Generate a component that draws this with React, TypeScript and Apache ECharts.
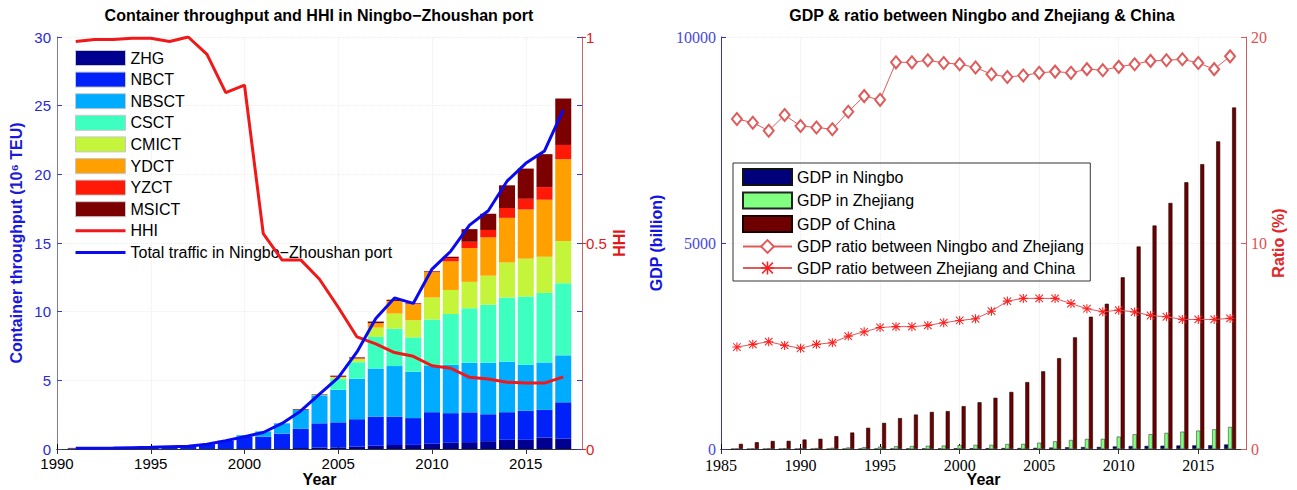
import React, { useEffect, useRef } from "react";
import * as echarts from "echarts";

// ---------- Left chart data (1991-2017) ----------
const portYears = [1991, 1992, 1993, 1994, 1995, 1996, 1997, 1998, 1999, 2000, 2001, 2002, 2003, 2004, 2005, 2006, 2007, 2008, 2009, 2010, 2011, 2012, 2013, 2014, 2015, 2016, 2017];
const zhg = [0, 0, 0, 0, 0, 0, 0, 0, 0, 0, 0, 0, 0.07, 0.1, 0.12, 0.17, 0.24, 0.29, 0.3, 0.38, 0.45, 0.5, 0.57, 0.67, 0.67, 0.84, 0.75];
const nbct = [0.05, 0.06, 0.08, 0.1, 0.12, 0.15, 0.2, 0.35, 0.6, 0.9, 0.9, 1.12, 1.4, 1.77, 1.82, 2.0, 2.12, 2.07, 1.95, 2.3, 2.16, 2.17, 1.96, 2.01, 2.11, 2.01, 2.65];
const nbsct = [0, 0, 0, 0, 0, 0, 0, 0, 0, 0.1, 0.38, 0.75, 1.37, 2.0, 2.38, 2.95, 3.5, 3.68, 3.38, 3.4, 3.52, 3.61, 3.75, 3.68, 3.36, 3.45, 3.42];
const csct = [0, 0, 0, 0, 0, 0, 0, 0, 0, 0, 0, 0, 0, 0.05, 0.77, 1.2, 2.3, 2.72, 2.5, 3.35, 3.7, 3.97, 4.23, 4.67, 4.96, 5.07, 5.25];
const cmict = [0, 0, 0, 0, 0, 0, 0, 0, 0, 0, 0, 0, 0, 0, 0.12, 0.2, 0.68, 1.1, 1.25, 1.6, 1.75, 1.92, 2.11, 2.55, 2.76, 2.63, 3.07];
const ydct = [0, 0, 0, 0, 0, 0, 0, 0, 0, 0, 0, 0, 0, 0, 0.05, 0.08, 0.32, 0.92, 1.16, 1.84, 2.08, 2.46, 2.79, 3.25, 3.58, 4.15, 5.96];
const yzct = [0, 0, 0, 0, 0, 0, 0, 0, 0, 0, 0, 0, 0, 0, 0, 0, 0, 0, 0.04, 0.06, 0.24, 0.46, 0.54, 0.72, 0.78, 0.92, 1.04];
const msict = [0.03, 0, 0, 0, 0, 0, 0, 0, 0, 0, 0, 0, 0.05, 0.05, 0.08, 0.07, 0.12, 0.09, 0.04, 0.03, 0.1, 0.92, 1.18, 1.65, 2.2, 2.4, 3.38];
const hhi = [0.989, 0.994, 0.994, 0.997, 0.997, 0.989, 1.0, 0.958, 0.865, 0.883, 0.523, 0.459, 0.459, 0.412, 0.344, 0.272, 0.255, 0.234, 0.225, 0.202, 0.196, 0.174, 0.17, 0.162, 0.16, 0.16, 0.175];
const totalTraffic = [0.05, 0.05, 0.07, 0.1, 0.12, 0.17, 0.2, 0.35, 0.6, 0.9, 1.2, 1.86, 2.77, 4.0, 5.2, 7.07, 9.5, 11.0, 10.6, 13.1, 14.4, 16.3, 17.35, 19.5, 20.8, 21.7, 24.7];
// x axis of the left chart: 1990 ... 2018
const portAxisYears = [1990, 1991, 1992, 1993, 1994, 1995, 1996, 1997, 1998, 1999, 2000, 2001, 2002, 2003, 2004, 2005, 2006, 2007, 2008, 2009, 2010, 2011, 2012, 2013, 2014, 2015, 2016, 2017, 2018];

// ---------- Right chart data (1986-2017) ----------
const gdpYears = [1986, 1987, 1988, 1989, 1990, 1991, 1992, 1993, 1994, 1995, 1996, 1997, 1998, 1999, 2000, 2001, 2002, 2003, 2004, 2005, 2006, 2007, 2008, 2009, 2010, 2011, 2012, 2013, 2014, 2015, 2016, 2017];
const gdpNingbo = [1.6, 1.9, 2.3, 2.8, 3, 3.4, 4.3, 5.9, 7.7, 9.3, 12.2, 13.5, 14.7, 15.4, 17.7, 18.5, 20, 22.6, 23, 28, 35, 42, 48, 50, 62, 72, 75, 80, 85, 88, 92, 110];
const gdpZhejiang = [10, 12, 15, 17, 19, 22, 28, 36, 45, 55, 65, 72, 78, 82, 95, 100, 100, 120, 122, 152, 185, 218, 243, 245, 300, 356, 358, 390, 420, 445, 477, 534];
const gdpChina = [125, 165, 195, 198, 230, 248, 312, 400, 515, 634, 750, 836, 900, 920, 1040, 1135, 1244, 1385, 1624, 1886, 2205, 2710, 3210, 3525, 4168, 4915, 5424, 5973, 6474, 6914, 7467, 8288];
const ratioNbZj = [16.02, 15.84, 15.45, 16.21, 15.68, 15.61, 15.52, 16.37, 17.13, 16.95, 18.77, 18.77, 18.87, 18.74, 18.68, 18.52, 18.19, 18.06, 18.13, 18.26, 18.32, 18.26, 18.44, 18.39, 18.55, 18.68, 18.84, 18.87, 18.92, 18.74, 18.44, 19.06];
const ratioZjCn = [4.95, 5.08, 5.21, 5.03, 4.89, 5.08, 5.16, 5.48, 5.69, 5.9, 5.94, 5.94, 6.0, 6.13, 6.24, 6.32, 6.69, 7.18, 7.31, 7.31, 7.31, 7.06, 6.81, 6.66, 6.74, 6.65, 6.48, 6.42, 6.29, 6.29, 6.29, 6.34];
// x axis of the right chart: 1985 ... 2018
const gdpAxisYears = [1985, 1986, 1987, 1988, 1989, 1990, 1991, 1992, 1993, 1994, 1995, 1996, 1997, 1998, 1999, 2000, 2001, 2002, 2003, 2004, 2005, 2006, 2007, 2008, 2009, 2010, 2011, 2012, 2013, 2014, 2015, 2016, 2017, 2018];

const portNames = ["ZHG", "NBCT", "NBSCT", "CSCT", "CMICT", "YDCT", "YZCT", "MSICT"];
const portValues = [zhg, nbct, nbsct, csct, cmict, ydct, yzct, msict];
const portColors = ["#000090", "#0022f8", "#00acff", "#3dffc0", "#c4f53a", "#ffa000", "#ff1a08", "#7c0000"];

const HHI_NAME = "HHI";
const TOTAL_NAME = "Total traffic in Ningbo\u2212Zhoushan port";

const SANS = "'Liberation Sans', Arial, sans-serif";
const SERIF = "'Liberation Serif', 'Times New Roman', serif";

const asterisk =
  "path://M4.4,0h1.2v10h-1.2z M0,4.4h10v1.2h-10z M1.2,0.4l8.4,8.4l-0.8,0.8l-8.4,-8.4z M8.8,0.4l0.8,0.8l-8.4,8.4l-0.8,-0.8z";
const lineIcon = "path://M0,0h50v3h-50z";

function align(axisYears: number[], years: number[], values: number[]) {
  return axisYears.map((y) => {
    const i = years.indexOf(y);
    return i >= 0 ? values[i] : "-";
  });
}

export default function App() {
  const ref = useRef<HTMLDivElement>(null);
  useEffect(() => {
    document.body.style.margin = "0";
    const chart = echarts.init(ref.current!, null, { renderer: "svg" });

    const leftBars = portNames.map((name, k) => ({
      name,
      type: "bar",
      stack: "port",
      xAxisIndex: 0,
      yAxisIndex: 0,
      barWidth: 16,
      itemStyle: { color: portColors[k] },
      data: align(portAxisYears, portYears, portValues[k]),
    }));

    const xCat = (years: number[], grid: number, fontFamily: string, fontSize: number, margin: number) => ({
      type: "category",
      gridIndex: grid,
      data: years.map(String),
      boundaryGap: false,
      name: "Year",
      nameLocation: "middle",
      nameGap: 22,
      nameMoveOverlap: false,
      nameTextStyle: { fontSize: 16, fontWeight: "bold", fontFamily: SANS, color: "#000" },
      axisLine: { lineStyle: { color: "#000", width: 1 } },
      axisTick: { inside: true, length: 5, interval: 4, lineStyle: { color: "#000" } },
      axisLabel: { interval: 4, fontSize, fontFamily, color: "#000", margin },
      splitLine: { show: true, interval: 4, lineStyle: { color: "#ededed", type: "dotted" } },
    });
    const xTop = (years: number[], grid: number) => ({
      type: "category",
      gridIndex: grid,
      position: "top",
      data: years.map(String),
      boundaryGap: false,
      axisLine: { lineStyle: { color: "#333", width: 1 } },
      axisTick: { inside: true, length: 5, interval: 4, lineStyle: { color: "#333" } },
      axisLabel: { show: false },
      splitLine: { show: false },
    });

    const option: any = {
      animation: false,
      backgroundColor: "#ffffff",
      graphic: [
        {
          type: "text",
          x: 319,
          y: 15,
          style: {
            text: "Container throughput and HHI in Ningbo\u2212Zhoushan port",
            textAlign: "center",
            textVerticalAlign: "middle",
            align: "center",
            verticalAlign: "middle",
            font: `bold 16px ${SANS}`,
            fill: "#000",
          },
        },
        {
          type: "text",
          x: 982,
          y: 15,
          style: {
            text: "GDP & ratio between Ningbo and Zhejiang & China",
            textAlign: "center",
            textVerticalAlign: "middle",
            align: "center",
            verticalAlign: "middle",
            font: `bold 16px ${SANS}`,
            fill: "#000",
          },
        },
      ],
      grid: [
        { left: 57, top: 37, width: 525, height: 412, containLabel: false, outerBoundsMode: "none" },
        { left: 721, top: 37, width: 525, height: 412, containLabel: false, outerBoundsMode: "none" },
      ],
      legend: [
        {
          orient: "vertical",
          left: 70,
          top: 45,
          padding: 5,
          itemWidth: 50,
          itemHeight: 15,
          itemGap: 5.6,
          textStyle: { fontSize: 16, fontFamily: SANS, color: "#000" },
          data: [
            ...portNames.map((n) => ({ name: n, icon: "rect", itemStyle: { borderColor: "#c8c8c8", borderWidth: 1 } })),
            { name: HHI_NAME, icon: lineIcon },
            { name: TOTAL_NAME, icon: lineIcon },
          ],
        },
        {
          orient: "vertical",
          left: 733,
          top: 163,
          padding: [5, 6, 5, 9],
          itemWidth: 49,
          itemHeight: 16,
          itemGap: 5.5,
          borderColor: "#333",
          borderWidth: 1,
          textStyle: { fontSize: 16, fontFamily: SANS, color: "#000" },
          data: [
            { name: "GDP in Ningbo", icon: "rect" },
            { name: "GDP in Zhejiang", icon: "rect" },
            { name: "GDP of China", icon: "rect" },
            { name: "GDP ratio between Ningbo and Zhejiang" },
            { name: "GDP ratio between Zhejiang and China" },
          ],
        },
      ],
      xAxis: [
        xCat(portAxisYears, 0, SANS, 15, 7),
        xTop(portAxisYears, 0),
        xCat(gdpAxisYears, 1, SERIF, 16, 8),
        xTop(gdpAxisYears, 1),
      ],
      yAxis: [
        {
          type: "value",
          gridIndex: 0,
          min: 0,
          max: 30,
          interval: 5,
          position: "left",
          name: "Container throughput (10\u2076 TEU)",
          nameLocation: "middle",
          nameRotate: 90,
          nameGap: 33,
          nameTextStyle: { fontSize: 16, fontWeight: "bold", fontFamily: SANS, color: "#1a1ad8" },
          axisLine: { show: true, lineStyle: { color: "#7a7ac4", width: 1 } },
          axisTick: { show: true, inside: true, length: 5, lineStyle: { color: "#3a3ad0" } },
          axisLabel: { fontSize: 15, fontFamily: SANS, color: "#2a2ad6", margin: 6 },
          splitLine: { show: true, lineStyle: { color: "#ededed", type: "dotted" } },
        },
        {
          type: "value",
          gridIndex: 0,
          min: 0,
          max: 1,
          interval: 0.5,
          position: "right",
          name: "HHI",
          nameLocation: "middle",
          nameRotate: 90,
          nameGap: 29,
          nameTextStyle: { fontSize: 16, fontWeight: "bold", fontFamily: SANS, color: "#e01818" },
          axisLine: { show: true, lineStyle: { color: "#c46a6a", width: 1 } },
          axisTick: { show: true, inside: false, length: 4, lineStyle: { color: "#d03030" } },
          axisLabel: { fontSize: 15, fontFamily: SANS, color: "#e02020", margin: 4 },
          splitLine: { show: false },
        },
        {
          type: "value",
          gridIndex: 0,
          min: 0,
          max: 30,
          interval: 5,
          position: "right",
          axisLine: { show: false },
          axisTick: { show: true, inside: true, length: 5, lineStyle: { color: "#3a3ad0" } },
          axisLabel: { show: false },
          splitLine: { show: false },
        },
        {
          type: "value",
          gridIndex: 1,
          min: 0,
          max: 10000,
          interval: 5000,
          position: "left",
          name: "GDP (billion)",
          nameLocation: "middle",
          nameRotate: 90,
          nameGap: 57,
          nameTextStyle: { fontSize: 16, fontWeight: "bold", fontFamily: SANS, color: "#1414e0" },
          axisLine: { show: true, lineStyle: { color: "#3030d8", width: 1 } },
          axisTick: { show: true, inside: true, length: 5, lineStyle: { color: "#3030d8" } },
          axisLabel: { fontSize: 16, fontFamily: SERIF, color: "#4848e0", margin: 5, formatter: (v: number) => String(v) },
          splitLine: { show: true, lineStyle: { color: "#efefef", type: "dotted" } },
        },
        {
          type: "value",
          gridIndex: 1,
          min: 0,
          max: 20,
          interval: 10,
          position: "right",
          name: "Ratio (%)",
          nameLocation: "middle",
          nameRotate: 90,
          nameGap: 23,
          nameTextStyle: { fontSize: 16, fontWeight: "bold", fontFamily: SANS, color: "#e02828" },
          axisLine: { show: true, lineStyle: { color: "#d06060", width: 1 } },
          axisTick: { show: true, inside: true, length: 5, lineStyle: { color: "#d06060" } },
          axisLabel: { fontSize: 16, fontFamily: SERIF, color: "#e05050", margin: 5 },
          splitLine: { show: false },
        },
      ],
      series: [
        ...leftBars,
        {
          name: HHI_NAME,
          type: "line",
          xAxisIndex: 0,
          yAxisIndex: 1,
          symbol: "none",
          color: "#f01818",
          lineStyle: { color: "#f01818", width: 3 },
          data: align(portAxisYears, portYears, hhi),
          z: 5,
        },
        {
          name: TOTAL_NAME,
          type: "line",
          xAxisIndex: 0,
          yAxisIndex: 0,
          symbol: "none",
          color: "#0a0af0",
          lineStyle: { color: "#0a0af0", width: 3 },
          data: align(portAxisYears, portYears, totalTraffic),
          z: 5,
        },
        {
          name: "GDP in Ningbo",
          type: "bar",
          xAxisIndex: 2,
          yAxisIndex: 3,
          barWidth: 4,
          barGap: "0%",
          itemStyle: { color: "#00007a", borderColor: "#111", borderWidth: 0.5 },
          data: align(gdpAxisYears, gdpYears, gdpNingbo),
        },
        {
          name: "GDP in Zhejiang",
          type: "bar",
          xAxisIndex: 2,
          yAxisIndex: 3,
          barWidth: 4,
          barGap: "0%",
          itemStyle: { color: "#80ff80", borderColor: "#222", borderWidth: 0.5 },
          data: align(gdpAxisYears, gdpYears, gdpZhejiang),
        },
        {
          name: "GDP of China",
          type: "bar",
          xAxisIndex: 2,
          yAxisIndex: 3,
          barWidth: 4,
          barGap: "0%",
          itemStyle: { color: "#6e0000", borderColor: "#1a0000", borderWidth: 0.6 },
          data: align(gdpAxisYears, gdpYears, gdpChina),
        },
        {
          name: "GDP ratio between Ningbo and Zhejiang",
          type: "line",
          xAxisIndex: 2,
          yAxisIndex: 4,
          symbol: "emptyDiamond",
          symbolSize: [10, 12],
          showAllSymbol: true,
          color: "#e05a5a",
          lineStyle: { color: "#e05a5a", width: 1 },
          itemStyle: { color: "#e05a5a", borderColor: "#e05a5a", borderWidth: 1 },
          data: align(gdpAxisYears, gdpYears, ratioNbZj),
          z: 5,
        },
        {
          name: "GDP ratio between Zhejiang and China",
          type: "line",
          xAxisIndex: 2,
          yAxisIndex: 4,
          symbol: asterisk,
          symbolSize: 9,
          showAllSymbol: true,
          color: "#ff2020",
          lineStyle: { color: "#e05a5a", width: 1 },
          itemStyle: { color: "#ff2020" },
          data: align(gdpAxisYears, gdpYears, ratioZjCn),
          z: 5,
        },
      ],
    };

    chart.setOption(option);
    return () => chart.dispose();
  }, []);

  return <div ref={ref} style={{ width: 1297, height: 490 }} />;
}
